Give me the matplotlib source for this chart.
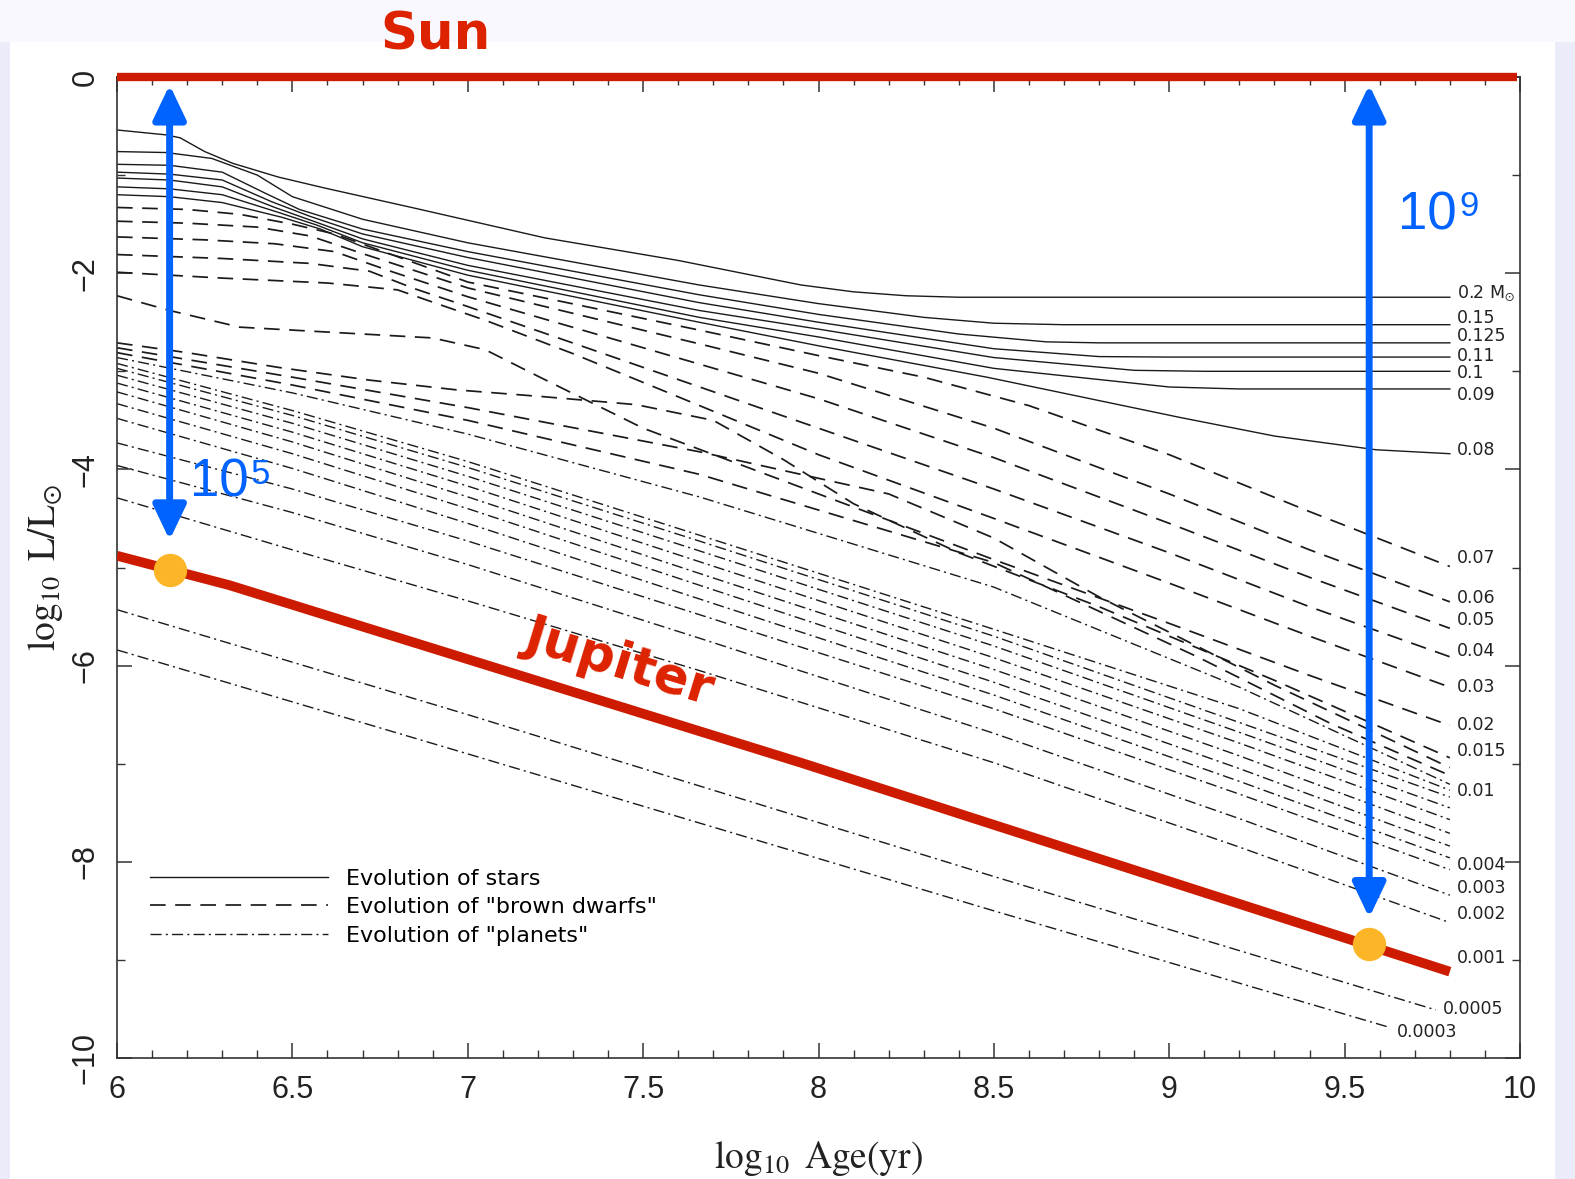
import matplotlib
matplotlib.use('Agg')
import matplotlib.pyplot as plt
from matplotlib.patches import Rectangle
from matplotlib.lines import Line2D
from matplotlib.ticker import MultipleLocator

plt.rcParams['mathtext.fontset'] = 'stix'
plt.rcParams['font.family'] = ['DejaVu Sans']

RED = '#cc1b00'
BLUE = '#0062ff'
GOLD = '#fbb527'
SANS = ['Liberation Sans', 'DejaVu Sans']

# ---- stars (solid): log10 age [yr], log10 L/Lsun ----
star_labels = ['0.2 M$_{\\odot}$', '0.15', '0.125', '0.11', '0.1', '0.09', '0.08']
star_tracks = [
    ([6.0, 6.14, 6.18, 6.25, 6.33, 6.46, 6.59, 6.84, 7.22, 7.6, 7.95, 8.1, 8.25, 8.4, 9.8],
     [-0.54, -0.59, -0.62, -0.76, -0.88, -1.02, -1.13, -1.33, -1.64, -1.87, -2.12, -2.19, -2.23, -2.245, -2.245]),
    ([6.0, 6.14, 6.27, 6.4, 6.5, 6.7, 7.0, 7.66, 8.0, 8.3, 8.5, 8.7, 9.8],
     [-0.76, -0.77, -0.83, -1.0, -1.22, -1.45, -1.69, -2.12, -2.31, -2.45, -2.51, -2.525, -2.525]),
    ([6.0, 6.15, 6.3, 6.42, 6.52, 6.7, 7.0, 7.66, 8.0, 8.4, 8.65, 8.8, 9.8],
     [-0.89, -0.9, -0.97, -1.18, -1.35, -1.55, -1.78, -2.22, -2.42, -2.62, -2.7, -2.71, -2.71]),
    ([6.0, 6.15, 6.3, 6.44, 6.55, 6.7, 7.0, 7.66, 8.0, 8.5, 8.8, 9.0, 9.8],
     [-0.97, -0.99, -1.05, -1.27, -1.42, -1.6, -1.84, -2.3, -2.5, -2.77, -2.85, -2.855, -2.855]),
    ([6.0, 6.15, 6.3, 6.45, 6.56, 6.7, 7.0, 7.66, 8.0, 8.5, 8.9, 9.1, 9.8],
     [-1.03, -1.05, -1.12, -1.33, -1.47, -1.65, -1.92, -2.38, -2.57, -2.86, -2.99, -3.0, -3.0]),
    ([6.0, 6.15, 6.3, 6.46, 6.57, 6.7, 7.0, 7.66, 8.0, 8.5, 9.0, 9.2, 9.8],
     [-1.12, -1.14, -1.2, -1.38, -1.51, -1.69, -1.97, -2.45, -2.65, -2.97, -3.16, -3.18, -3.18]),
    ([6.0, 6.15, 6.3, 6.47, 6.58, 6.7, 7.0, 7.66, 8.0, 8.48, 9.03, 9.3, 9.59, 9.8],
     [-1.2, -1.22, -1.28, -1.43, -1.55, -1.73, -2.02, -2.5, -2.74, -3.06, -3.47, -3.66, -3.8, -3.84]),
]
star_label_dy = [3, 5, 5, 1, -1, -4, 3]

# ---- brown dwarfs (dashed) ----
bd_labels = ['0.07', '0.06', '0.05', '0.04', '0.03', '0.02', '0.015', '', '']
bd_tracks = [
    ([6.0, 6.2, 6.35, 6.5, 6.62, 7.0, 7.66, 8.0, 8.3, 8.6, 9.0, 9.4, 9.8],
     [-1.33, -1.35, -1.4, -1.5, -1.6, -2.09, -2.58, -2.84, -3.06, -3.35, -3.85, -4.43, -4.99]),
    ([6.0, 6.2, 6.4, 6.55, 6.7, 7.0, 7.66, 8.0, 8.5, 9.0, 9.4, 9.8],
     [-1.47, -1.49, -1.53, -1.62, -1.8, -2.15, -2.72, -3.02, -3.58, -4.25, -4.82, -5.35]),
    ([6.0, 6.25, 6.45, 6.62, 6.78, 7.0, 7.5, 8.0, 8.5, 9.0, 9.4, 9.8],
     [-1.63, -1.66, -1.7, -1.78, -1.98, -2.24, -2.76, -3.28, -3.88, -4.55, -5.1, -5.62]),
    ([6.0, 6.3, 6.55, 6.72, 6.85, 7.0, 7.5, 8.0, 8.5, 9.0, 9.4, 9.8],
     [-1.81, -1.85, -1.9, -1.98, -2.16, -2.34, -2.96, -3.58, -4.2, -4.85, -5.4, -5.91]),
    ([6.0, 6.3, 6.6, 6.8, 6.92, 7.05, 7.3, 7.6, 8.0, 8.5, 9.0, 9.4, 9.8],
     [-1.99, -2.05, -2.1, -2.17, -2.32, -2.48, -2.82, -3.26, -3.85, -4.5, -5.16, -5.7, -6.22]),
    ([6.0, 6.15, 6.35, 6.6, 6.9, 7.05, 7.2, 7.5, 8.0, 8.5, 9.0, 9.4, 9.8],
     [-2.23, -2.38, -2.55, -2.6, -2.66, -2.78, -3.05, -3.58, -4.25, -4.92, -5.57, -6.1, -6.61]),
    ([6.0, 6.2, 6.46, 6.72, 6.97, 7.22, 7.48, 7.7, 7.9, 8.1, 8.4, 8.8, 9.3, 9.8],
     [-2.71, -2.81, -2.96, -3.09, -3.19, -3.26, -3.34, -3.5, -3.9, -4.35, -4.85, -5.4, -6.15, -6.94]),
    ([6.0, 6.5, 7.0, 7.66, 8.2, 8.5, 8.8, 9.3, 9.8],
     [-2.76, -3.06, -3.37, -3.82, -4.25, -4.7, -5.3, -6.2, -7.04]),
    ([6.0, 6.5, 7.0, 7.66, 8.5, 9.08, 9.46, 9.8],
     [-2.81, -3.14, -3.5, -4.05, -4.95, -5.91, -6.59, -7.12]),
]
bd_label_dy = [6, 3, 6, 4, 0, 0, 5, 0, 0]

# ---- planets (dash-dot) ----
planet_labels = ['', '', '0.01', '', '', '', '', '', '0.004', '0.003', '0.002', '0.001', '0.0005', '0.0003']
planet_tracks = [
    ([6.0, 6.5, 7.0, 7.66, 8.5, 9.2, 9.8], [-2.86, -3.22, -3.64, -4.28, -5.2, -6.22, -7.21]),
    ([6.0, 6.5, 7.0, 7.66, 8.5, 9.2, 9.8], [-2.92, -3.4, -3.92, -4.67, -5.63, -6.44, -7.27]),
    ([6.0, 6.5, 7.0, 7.66, 8.5, 9.2, 9.8], [-2.97, -3.45, -3.98, -4.73, -5.7, -6.58, -7.34]),
    ([6.0, 6.5, 7.0, 7.66, 8.5, 9.2, 9.8], [-3.04, -3.53, -4.07, -4.83, -5.8, -6.68, -7.45]),
    ([6.0, 6.5, 7.0, 7.66, 8.5, 9.2, 9.8], [-3.12, -3.62, -4.17, -4.94, -5.92, -6.79, -7.57]),
    ([6.0, 6.5, 7.0, 7.66, 8.5, 9.2, 9.8], [-3.21, -3.72, -4.28, -5.06, -6.04, -6.92, -7.71]),
    ([6.0, 6.5, 7.0, 7.66, 8.5, 9.2, 9.8], [-3.33, -3.84, -4.4, -5.18, -6.17, -7.05, -7.84]),
    ([6.0, 6.5, 7.0, 7.66, 8.5, 9.2, 9.8], [-3.48, -3.99, -4.55, -5.32, -6.3, -7.18, -7.96]),
    ([6.0, 6.5, 7.0, 7.66, 8.5, 9.2, 9.8], [-3.73, -4.2, -4.73, -5.48, -6.44, -7.31, -8.08]),
    ([6.0, 6.5, 7.0, 7.66, 8.5, 9.2, 9.8], [-3.96, -4.44, -4.97, -5.72, -6.69, -7.56, -8.34]),
    ([6.0, 6.5, 7.0, 7.66, 8.5, 9.2, 9.8], [-4.29, -4.82, -5.34, -6.05, -6.99, -7.85, -8.62]),
    ([6.0, 6.32, 7.95, 9.8], [-4.88, -5.18, -6.99, -9.12]),
    ([6.0, 7.0, 8.5, 9.76], [-5.43, -6.5, -8.15, -9.51]),
    ([6.0, 7.0, 8.5, 9.63], [-5.84, -6.9, -8.5, -9.69]),
]
planet_label_dy = [0, 0, 4, 0, 0, 0, 0, 0, 3, 5, 6, 10, 1, -3]

# Jupiter (= the 0.001 Msun track) and the Sun
jupiter_age = [6.0, 6.32, 7.95, 9.8]
jupiter_logL = [-4.88, -5.18, -6.99, -9.12]
sun_logL = 0.0
dot_age = [6.15, 9.57]
dot_logL = [-5.03, -8.84]
arrow_tip = [-4.72, -8.57]

fig = plt.figure(figsize=(15.75, 11.79), dpi=100, facecolor='#eaecf9')
fig.patches.append(Rectangle((0, 1 - 42 / 1179), 1, 42 / 1179, transform=fig.transFigure,
                             facecolor='#f8f8fe', edgecolor='none', zorder=-2))
fig.patches.append(Rectangle((10 / 1575, 0), 1545 / 1575, 1 - 42 / 1179, transform=fig.transFigure,
                             facecolor='white', edgecolor='none', zorder=-2))

ax = fig.add_axes([117 / 1575, 1 - 1058 / 1179, 1403 / 1575, 981 / 1179])
ax.set_facecolor('none')
ax.set_xlim(6, 10)
ax.set_ylim(-10, 0)

DASH = (0, (9, 5.5))
DASHDOT = (0, (8, 3, 1.5, 3))

def end_label(x, y, text, dy):
    if text:
        ax.annotate(text, (x[-1], y[-1]), xytext=(5, dy), textcoords='offset points',
                    ha='left', va='center', fontsize=12.5, color='#222222')

for (x, y), lab, dy in zip(star_tracks, star_labels, star_label_dy):
    ax.plot(x, y, color='#1a1a1a', lw=1.0, ls='-')
    end_label(x, y, lab, dy)
for (x, y), lab, dy in zip(bd_tracks, bd_labels, bd_label_dy):
    ax.plot(x, y, color='#1a1a1a', lw=1.25, ls=DASH)
    end_label(x, y, lab, dy)
for (x, y), lab, dy in zip(planet_tracks, planet_labels, planet_label_dy):
    ax.plot(x, y, color='#1a1a1a', lw=1.0, ls=DASHDOT)
    end_label(x, y, lab, dy)

# legend
handles = [Line2D([], [], color='#1a1a1a', lw=1.0, ls='-'),
           Line2D([], [], color='#1a1a1a', lw=1.25, ls=DASH),
           Line2D([], [], color='#1a1a1a', lw=1.0, ls=DASHDOT)]
ax.legend(handles, ['Evolution of stars', 'Evolution of "brown dwarfs"', 'Evolution of "planets"'],
          loc='upper left', bbox_to_anchor=(0.0235, 0.193), frameon=False, fontsize=16,
          handlelength=8.0, handletextpad=0.8, labelspacing=0.38, borderpad=0, borderaxespad=0)

# highlight lines
ax.axhline(sun_logL, xmax=0.998, color=RED, lw=6, solid_capstyle='butt', clip_on=False, zorder=5)
ax.plot(jupiter_age, jupiter_logL, color=RED, lw=7, solid_capstyle='butt', zorder=5)

# double arrows from the Sun down to Jupiter
for xa, tip in zip(dot_age, arrow_tip):
    ax.annotate('', xy=(xa, -0.08), xytext=(xa, tip),
                arrowprops=dict(arrowstyle='<|-|>,head_length=2.1,head_width=1.0',
                                lw=5, color=BLUE, shrinkA=0, shrinkB=0), zorder=6)
ax.plot(dot_age, dot_logL, 'o', ms=24, color=GOLD, mec='none', zorder=7)

# "10^5" and "10^9" factors (base + raised exponent)
for bx, by, expo in [(6.208, -4.28, '5'), (9.652, -1.55, '9')]:
    ax.text(bx, by, '10', color=BLUE, fontsize=38, family=SANS, ha='left', va='baseline', zorder=8)
    ax.annotate(expo, (bx, by), xytext=(44, 9.5), textcoords='offset points', color=BLUE,
                fontsize=25, family=SANS, ha='left', va='baseline', zorder=8)

ax.text(7.434, -5.97, 'Jupiter', color='#dd2200', fontsize=37, fontweight='bold',
        rotation=-17, rotation_mode='anchor', ha='center', va='center', zorder=8)
fig.text(435 / 1575, 1 - 36 / 1179, 'Sun', color='#dd2200', fontsize=37, fontweight='bold',
         ha='center', va='center')

# axes styling
ax.xaxis.set_major_locator(MultipleLocator(0.5))
ax.xaxis.set_minor_locator(MultipleLocator(0.1))
ax.yaxis.set_major_locator(MultipleLocator(2))
ax.yaxis.set_minor_locator(MultipleLocator(1))
ax.set_xticks([6, 6.5, 7, 7.5, 8, 8.5, 9, 9.5, 10])
ax.set_xticklabels(['6', '6.5', '7', '7.5', '8', '8.5', '9', '9.5', '10'])
ax.tick_params(which='both', direction='in', top=True, right=True, colors='#333333')
ax.tick_params(which='major', length=11, width=1.1, pad=12, labelsize=22)
ax.tick_params(which='minor', length=6, width=1.0)
for lab in ax.get_xticklabels() + ax.get_yticklabels():
    lab.set_family(SANS)
    lab.set_color('#222222')
for lab in ax.get_yticklabels():
    lab.set_rotation(90)
    lab.set_va('center')
for sp in ax.spines.values():
    sp.set_linewidth(1.2)
    sp.set_color('#333333')

ax.set_xlabel('$\\log_{10}\\ \\mathrm{Age(yr)}$', fontsize=27, labelpad=25, color='#222222')
ax.set_ylabel('$\\log_{10}\\ \\mathrm{L/L_{\\odot}}$', fontsize=27, labelpad=4, color='#222222')

fig.savefig('out.png', dpi=100, facecolor=fig.get_facecolor())
